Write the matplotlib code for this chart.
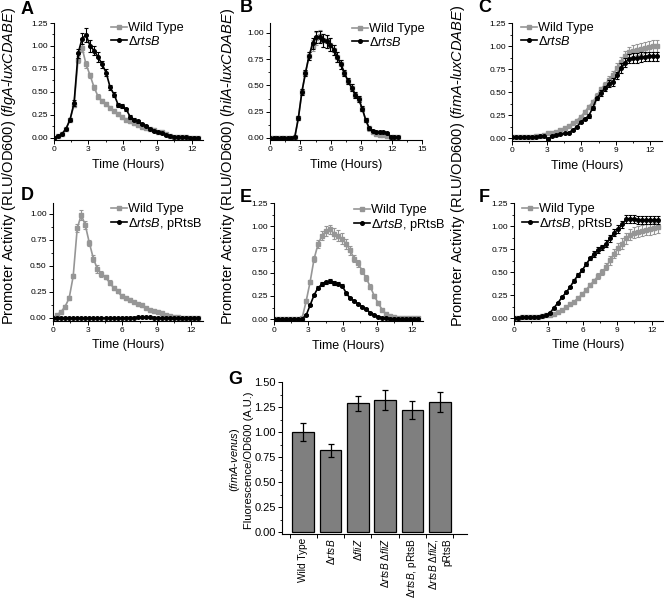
import matplotlib
matplotlib.use('Agg')
import matplotlib.pyplot as plt
from matplotlib.ticker import MultipleLocator, FormatStrFormatter, FixedLocator

plt.rcParams['font.family'] = ['Liberation Sans', 'DejaVu Sans']
plt.rcParams['mathtext.fontset'] = 'custom'
plt.rcParams['mathtext.rm'] = 'Liberation Sans'
plt.rcParams['mathtext.it'] = 'Liberation Sans:italic'
plt.rcParams['mathtext.bf'] = 'Liberation Sans:bold'

# ---------------- data ----------------
hours = [0.0, 0.35, 0.7, 1.05, 1.4, 1.75, 2.1, 2.45, 2.8, 3.15, 3.5, 3.85, 4.2,
         4.55, 4.9, 5.25, 5.6, 5.95, 6.3, 6.65, 7.0, 7.35, 7.7, 8.05, 8.4,
         8.75, 9.1, 9.45, 9.8, 10.15, 10.5, 10.85, 11.2, 11.55, 11.9, 12.25, 12.6]

# Panel A (flgA)
a_wt = [0, 0.02, 0.045, 0.1, 0.2, 0.36, 0.85, 0.98, 0.80, 0.68, 0.55, 0.45, 0.40,
        0.37, 0.33, 0.29, 0.26, 0.23, 0.20, 0.18, 0.16, 0.14, 0.12, 0.11, 0.10,
        0.085, 0.07, 0.06, 0.04, 0.025, 0.015, 0.01, 0.008, 0.006, 0.005, 0.005, 0.004]
a_wt_err = [0.005, 0.01, 0.01, 0.01, 0.02, 0.02, 0.04, 0.04, 0.04, 0.03, 0.03, 0.03, 0.02,
            0.02, 0.02, 0.02, 0.02, 0.02, 0.015, 0.015, 0.015, 0.01, 0.01, 0.01, 0.01,
            0.01, 0.01, 0.01, 0.01, 0.005, 0.005, 0.005, 0.005, 0.005, 0.005, 0.005, 0.005]
a_mut = [0, 0.02, 0.045, 0.1, 0.2, 0.38, 0.92, 1.08, 1.12, 1.0, 0.95, 0.88, 0.80,
         0.71, 0.55, 0.47, 0.36, 0.35, 0.31, 0.23, 0.20, 0.18, 0.15, 0.13, 0.095,
         0.08, 0.065, 0.05, 0.035, 0.02, 0.012, 0.01, 0.008, 0.006, 0.005, 0.005, 0.004]
a_mut_err = [0.005, 0.01, 0.01, 0.01, 0.02, 0.03, 0.05, 0.06, 0.08, 0.06, 0.05, 0.05, 0.04,
             0.04, 0.03, 0.03, 0.02, 0.02, 0.02, 0.02, 0.015, 0.015, 0.01, 0.01, 0.01,
             0.01, 0.01, 0.01, 0.01, 0.005, 0.005, 0.005, 0.005, 0.005, 0.005, 0.005, 0.005]

# Panel B (hilA)
b_wt = [0, 0, 0, 0, 0, 0, 0.002, 0.01, 0.19, 0.44, 0.62, 0.78, 0.88,
        0.95, 0.97, 0.93, 0.92, 0.89, 0.84, 0.77, 0.70, 0.62, 0.54, 0.48, 0.41,
        0.37, 0.28, 0.17, 0.09, 0.06, 0.04, 0.03, 0.025, 0.02, 0.01, 0.01, 0.01]
b_wt_err = [0.005, 0.005, 0.005, 0.005, 0.005, 0.005, 0.005, 0.005, 0.02, 0.03, 0.03, 0.04, 0.05,
            0.06, 0.06, 0.06, 0.06, 0.06, 0.05, 0.05, 0.04, 0.03, 0.03, 0.03, 0.03,
            0.03, 0.02, 0.02, 0.02, 0.01, 0.01, 0.01, 0.01, 0.01, 0.01, 0.01, 0.01]
b_mut = [0, 0, 0, 0, 0, 0, 0.002, 0.01, 0.19, 0.44, 0.62, 0.78, 0.90,
         0.96, 0.96, 0.93, 0.92, 0.89, 0.84, 0.77, 0.70, 0.62, 0.54, 0.48, 0.41,
         0.37, 0.28, 0.17, 0.09, 0.07, 0.06, 0.06, 0.055, 0.05, 0.01, 0.01, 0.01]
b_mut_err = [0.005, 0.005, 0.005, 0.005, 0.005, 0.005, 0.005, 0.005, 0.02, 0.03, 0.03, 0.04, 0.05,
             0.06, 0.06, 0.06, 0.06, 0.06, 0.05, 0.05, 0.04, 0.03, 0.03, 0.03, 0.03,
             0.03, 0.02, 0.02, 0.01, 0.01, 0.01, 0.01, 0.01, 0.01, 0.01, 0.01, 0.01]

# Panel C (fimA)
c_wt = [0.01, 0.012, 0.01, 0.012, 0.015, 0.015, 0.02, 0.025, 0.03, 0.05, 0.06, 0.07, 0.09,
        0.11, 0.13, 0.16, 0.19, 0.23, 0.28, 0.34, 0.39, 0.46, 0.53, 0.58, 0.63,
        0.69, 0.76, 0.83, 0.89, 0.93, 0.95, 0.96, 0.97, 0.98, 0.99, 1.0, 1.0]
c_wt_err = [0.005, 0.005, 0.005, 0.005, 0.005, 0.005, 0.005, 0.005, 0.01, 0.01, 0.01, 0.01, 0.01,
            0.01, 0.01, 0.01, 0.01, 0.01, 0.02, 0.02, 0.02, 0.03, 0.03, 0.03, 0.04,
            0.04, 0.05, 0.05, 0.06, 0.06, 0.06, 0.06, 0.06, 0.06, 0.06, 0.06, 0.06]
c_mut = [0.01, 0.01, 0.01, 0.012, 0.012, 0.015, 0.015, 0.02, 0.02, -0.01, 0.025, 0.03, 0.04,
         0.05, 0.06, 0.085, 0.12, 0.17, 0.21, 0.24, 0.33, 0.43, 0.49, 0.54, 0.59,
         0.61, 0.68, 0.76, 0.82, 0.86, 0.87, 0.87, 0.88, 0.885, 0.89, 0.89, 0.89]
c_mut_err = [0.005, 0.005, 0.005, 0.005, 0.005, 0.005, 0.005, 0.005, 0.005, 0.01, 0.01, 0.01, 0.01,
             0.01, 0.01, 0.01, 0.01, 0.01, 0.01, 0.02, 0.02, 0.02, 0.03, 0.03, 0.04,
             0.04, 0.04, 0.05, 0.05, 0.05, 0.05, 0.05, 0.05, 0.05, 0.05, 0.05, 0.05]

# Panel D (flgA, complemented)
d_wt = [0, 0.03, 0.06, 0.11, 0.19, 0.40, 0.86, 0.99, 0.89, 0.72, 0.57, 0.47, 0.42,
        0.39, 0.34, 0.29, 0.255, 0.21, 0.19, 0.175, 0.155, 0.135, 0.12, 0.10, 0.08,
        0.07, 0.055, 0.045, 0.03, 0.015, 0.01, 0.005, 0.003, 0.002, 0.002, 0.002, 0.002]
d_wt_err = [0.005, 0.01, 0.01, 0.01, 0.02, 0.02, 0.04, 0.05, 0.04, 0.03, 0.03, 0.04, 0.03,
            0.02, 0.02, 0.02, 0.02, 0.02, 0.015, 0.015, 0.01, 0.01, 0.01, 0.01, 0.01,
            0.01, 0.01, 0.01, 0.01, 0.005, 0.005, 0.005, 0.005, 0.005, 0.005, 0.005, 0.005]
d_mut = [0.0, 0.0, 0.0, 0.0, 0.0, 0.0, 0.0, 0.0, 0.0, 0.0, 0.0, 0.0, 0.0,
         0.0, 0.0, 0.0, 0.0, 0.002, 0.002, 0.003, 0.004, 0.005, 0.006, 0.008, 0.006,
         0.004, 0.002, 0.0, 0.0, 0.0, 0.0, 0.0, 0.0, 0.0, 0.0, 0.0, 0.0]
d_mut_err = [0.003, 0.003, 0.003, 0.003, 0.003, 0.003, 0.003, 0.003, 0.003, 0.003,
             0.003, 0.003, 0.003, 0.003, 0.003, 0.003, 0.003, 0.003, 0.003, 0.003,
             0.003, 0.003, 0.003, 0.003, 0.003, 0.003, 0.003, 0.003, 0.003, 0.003,
             0.003, 0.003, 0.003, 0.003, 0.003, 0.003, 0.003]

# Panel E (hilA, complemented)
e_wt = [0, 0, 0, 0, 0, 0, 0.002, 0.01, 0.19, 0.40, 0.65, 0.81, 0.90,
        0.95, 0.965, 0.92, 0.90, 0.865, 0.81, 0.74, 0.65, 0.60, 0.52, 0.44, 0.35,
        0.25, 0.17, 0.10, 0.05, 0.03, 0.02, 0.015, 0.01, 0.01, 0.01, 0.01, 0.01]
e_wt_err = [0.005, 0.005, 0.005, 0.005, 0.005, 0.005, 0.005, 0.005, 0.02, 0.02, 0.03, 0.04, 0.05,
            0.05, 0.05, 0.06, 0.06, 0.06, 0.05, 0.05, 0.04, 0.04, 0.03, 0.03, 0.03,
            0.02, 0.02, 0.01, 0.01, 0.01, 0.01, 0.01, 0.01, 0.01, 0.01, 0.01, 0.01]
e_mut = [0, 0, 0, 0, 0, 0, 0, 0.005, 0.04, 0.15, 0.26, 0.34, 0.375,
         0.395, 0.41, 0.39, 0.38, 0.36, 0.28, 0.225, 0.195, 0.165, 0.135, 0.105, 0.07,
         0.045, 0.025, 0.015, 0.01, 0.005, 0.005, 0.005, 0.005, 0.005, 0.005, 0.005, 0.005]
e_mut_err = [0.003, 0.003, 0.003, 0.003, 0.003, 0.003, 0.003, 0.003, 0.01, 0.01, 0.015, 0.02, 0.02,
             0.02, 0.02, 0.02, 0.015, 0.015, 0.015, 0.01, 0.01, 0.01, 0.01, 0.01, 0.01,
             0.005, 0.005, 0.005, 0.005, 0.003, 0.003, 0.003, 0.003, 0.003, 0.003, 0.003, 0.003]

# Panel F (fimA, complemented)
f_wt = [0.005, 0.006, 0.008, 0.01, 0.012, 0.015, 0.018, 0.022, 0.03, 0.04, 0.05, 0.07, 0.09,
        0.12, 0.15, 0.18, 0.22, 0.26, 0.31, 0.36, 0.41, 0.46, 0.50, 0.56, 0.63,
        0.70, 0.76, 0.81, 0.87, 0.91, 0.93, 0.94, 0.95, 0.96, 0.97, 0.98, 0.99]
f_wt_err = [0.005, 0.005, 0.005, 0.005, 0.005, 0.005, 0.005, 0.005, 0.005, 0.01, 0.01, 0.01, 0.01,
            0.01, 0.01, 0.01, 0.015, 0.015, 0.02, 0.02, 0.02, 0.03, 0.03, 0.04, 0.05,
            0.05, 0.06, 0.06, 0.06, 0.06, 0.06, 0.06, 0.06, 0.06, 0.06, 0.06, 0.06]
f_mut = [0.005, 0.006, 0.008, 0.01, 0.012, 0.015, 0.018, 0.022, 0.03, 0.06, 0.115, 0.17, 0.23,
         0.28, 0.34, 0.41, 0.47, 0.52, 0.59, 0.65, 0.70, 0.74, 0.77, 0.81, 0.87,
         0.93, 0.97, 1.02, 1.08, 1.08, 1.08, 1.07, 1.07, 1.07, 1.07, 1.07, 1.07]
f_mut_err = [0.005, 0.005, 0.005, 0.005, 0.005, 0.005, 0.005, 0.005, 0.005, 0.01, 0.01, 0.01, 0.01,
             0.01, 0.015, 0.015, 0.02, 0.02, 0.02, 0.02, 0.03, 0.03, 0.03, 0.04, 0.04,
             0.04, 0.04, 0.04, 0.04, 0.04, 0.04, 0.04, 0.04, 0.04, 0.04, 0.04, 0.04]

# Panel G (bar chart)
g_labels = ['Wild Type', 'Δ$\\mathit{rtsB}$', 'Δ$\\mathit{fliZ}$',
            'Δ$\\mathit{rtsB}$ Δ$\\mathit{fliZ}$', 'Δ$\\mathit{rtsB}$, pRtsB',
            'Δ$\\mathit{rtsB}$ Δ$\\mathit{fliZ}$,\npRtsB']
g_values = [1.00, 0.82, 1.29, 1.32, 1.22, 1.30]
g_errors = [0.09, 0.065, 0.075, 0.10, 0.09, 0.10]

# ---------------- layout ----------------
W, H = 664, 599
fig = plt.figure(figsize=(W / 100, H / 100), dpi=100)

GRAY = '#969696'
BLACK = '#000000'


def add_ax(l, r, top, bottom):
    return fig.add_axes([l / W, 1 - bottom / H, (r - l) / W, (bottom - top) / H])


def style_ax(ax, xmax, ymin, ymax, xmajor, ymajor):
    ax.set_xlim(0, xmax)
    ax.set_ylim(ymin, ymax)
    for s in ['top', 'right']:
        ax.spines[s].set_visible(False)
    for s in ['left', 'bottom']:
        ax.spines[s].set_linewidth(0.8)
    ax.xaxis.set_major_locator(MultipleLocator(xmajor))
    ax.xaxis.set_minor_locator(MultipleLocator(xmajor / 2))
    ax.yaxis.set_major_locator(MultipleLocator(ymajor))
    ax.yaxis.set_minor_locator(MultipleLocator(ymajor / 2))
    ax.yaxis.set_major_formatter(FormatStrFormatter('%.2f'))
    ax.tick_params(which='major', direction='out', length=3, width=0.7, labelsize=6, pad=1.5)
    ax.tick_params(which='minor', direction='out', length=1.5, width=0.6)
    ax.set_xlabel('Time (Hours)', fontsize=9, labelpad=4)


def plot_pair(ax, wt, wt_err, mut, mut_err):
    l1 = ax.errorbar(hours, wt, yerr=wt_err, color=GRAY, marker='s', markersize=2.6,
                     linewidth=1.2, elinewidth=0.8, capsize=1.3, capthick=0.8, zorder=2)
    l2 = ax.errorbar(hours, mut, yerr=mut_err, color=BLACK, marker='o', markersize=2.6,
                     linewidth=1.2, elinewidth=0.8, capsize=1.3, capthick=0.8, zorder=3)
    return l1[0], l2[0]


def legend_at(ax, handles, labels, x_px, y_px):
    ax.legend(handles, labels, loc='upper left', bbox_to_anchor=(x_px / W, 1 - y_px / H),
              bbox_transform=fig.transFigure, frameon=False, borderpad=0, borderaxespad=0,
              handlelength=1.25, handletextpad=0.1, labelspacing=0.05, fontsize=9.2)


mut_lab = 'Δ$\\mathit{rtsB}$'
comp_lab = 'Δ$\\mathit{rtsB}$, pRtsB'

axA = add_ax(54, 203, 23, 139.8)
style_ax(axA, 13, -0.02, 1.25, 3, 0.25)
h = plot_pair(axA, a_wt, a_wt_err, a_mut, a_mut_err)
legend_at(axA, h, ['Wild Type', mut_lab], 111, 22)

axB = add_ax(270, 422, 22.5, 140)
style_ax(axB, 15, -0.02, 1.1, 3, 0.25)
h = plot_pair(axB, b_wt, b_wt_err, b_mut, b_mut_err)
legend_at(axB, h, ['Wild Type', mut_lab], 352, 23)

axC = add_ax(512, 662, 23, 140.8)
style_ax(axC, 13, -0.03, 1.25, 3, 0.25)
h = plot_pair(axC, c_wt, c_wt_err, c_mut, c_mut_err)
legend_at(axC, h, ['Wild Type', mut_lab], 521, 22)

axD = add_ax(53, 203, 203.3, 320.6)
style_ax(axD, 13, -0.025, 1.1, 3, 0.25)
h = plot_pair(axD, d_wt, d_wt_err, d_mut, d_mut_err)
legend_at(axD, h, ['Wild Type', comp_lab], 111, 203)

axE = add_ax(274, 423, 203, 321)
style_ax(axE, 13, -0.02, 1.25, 3, 0.25)
h = plot_pair(axE, e_wt, e_wt_err, e_mut, e_mut_err)
legend_at(axE, h, ['Wild Type', comp_lab], 354, 204)

axF = add_ax(514, 663, 203.3, 320.5)
style_ax(axF, 13, -0.025, 1.25, 3, 0.25)
h = plot_pair(axF, f_wt, f_wt_err, f_mut, f_mut_err)
legend_at(axF, h, ['Wild Type', comp_lab], 522, 203)

# column y labels
ylab_genes = ['flgA', 'hilA', 'fimA']
for xc, gene in zip([9, 228, 458], ylab_genes):
    fig.text(xc / W, 1 - 166 / H,
             'Promoter Activity (RLU/OD600) ($\\mathit{%s}$-$\\mathit{luxCDABE}$)' % gene,
             rotation=90, ha='center', va='center', fontsize=10.5)

# panel letters
for letter, (px, py) in zip('ABCDEFG', [(27, 9), (246, 8), (485, 7), (27, 196),
                                        (246, 198), (484, 197), (235, 379)]):
    fig.text(px / W, 1 - py / H, letter, ha='center', va='center',
             fontsize=13, fontweight='bold')

# Panel G
axG = add_ax(282, 467, 382, 534)
pos = list(range(1, len(g_values) + 1))
axG.bar(pos, g_values, width=0.8, color='#7f7f7f', edgecolor='black', linewidth=0.9,
        yerr=g_errors, error_kw=dict(ecolor='black', elinewidth=0.9, capsize=2, capthick=0.9))
axG.set_xlim(0.22, 7.0)
axG.set_ylim(-0.02, 1.5)
for s in ['top', 'right']:
    axG.spines[s].set_visible(False)
axG.yaxis.set_major_locator(MultipleLocator(0.25))
axG.yaxis.set_minor_locator(MultipleLocator(0.125))
axG.yaxis.set_major_formatter(FormatStrFormatter('%.2f'))
axG.set_xticks(pos)
axG.set_xticklabels(g_labels, rotation=90, fontsize=7.3)
for t in axG.get_xticklabels():
    t.set_multialignment('right')
axG.xaxis.set_minor_locator(FixedLocator([p + 0.5 for p in [0] + pos]))
axG.tick_params(axis='x', which='major', length=0, pad=3)
axG.tick_params(axis='x', which='minor', direction='out', length=3, width=0.7)
axG.tick_params(axis='y', which='major', direction='out', length=3, width=0.7, labelsize=8, pad=1.5)
axG.tick_params(axis='y', which='minor', direction='out', length=1.5, width=0.6)
fig.text(241 / W, 1 - 460 / H, '($\\mathit{fimA}$-$\\mathit{venus}$)\nFluorescence/OD600 (A.U.)',
         rotation=90, ha='center', va='center', fontsize=8, multialignment='center')

fig.savefig('out.png', dpi=100)
